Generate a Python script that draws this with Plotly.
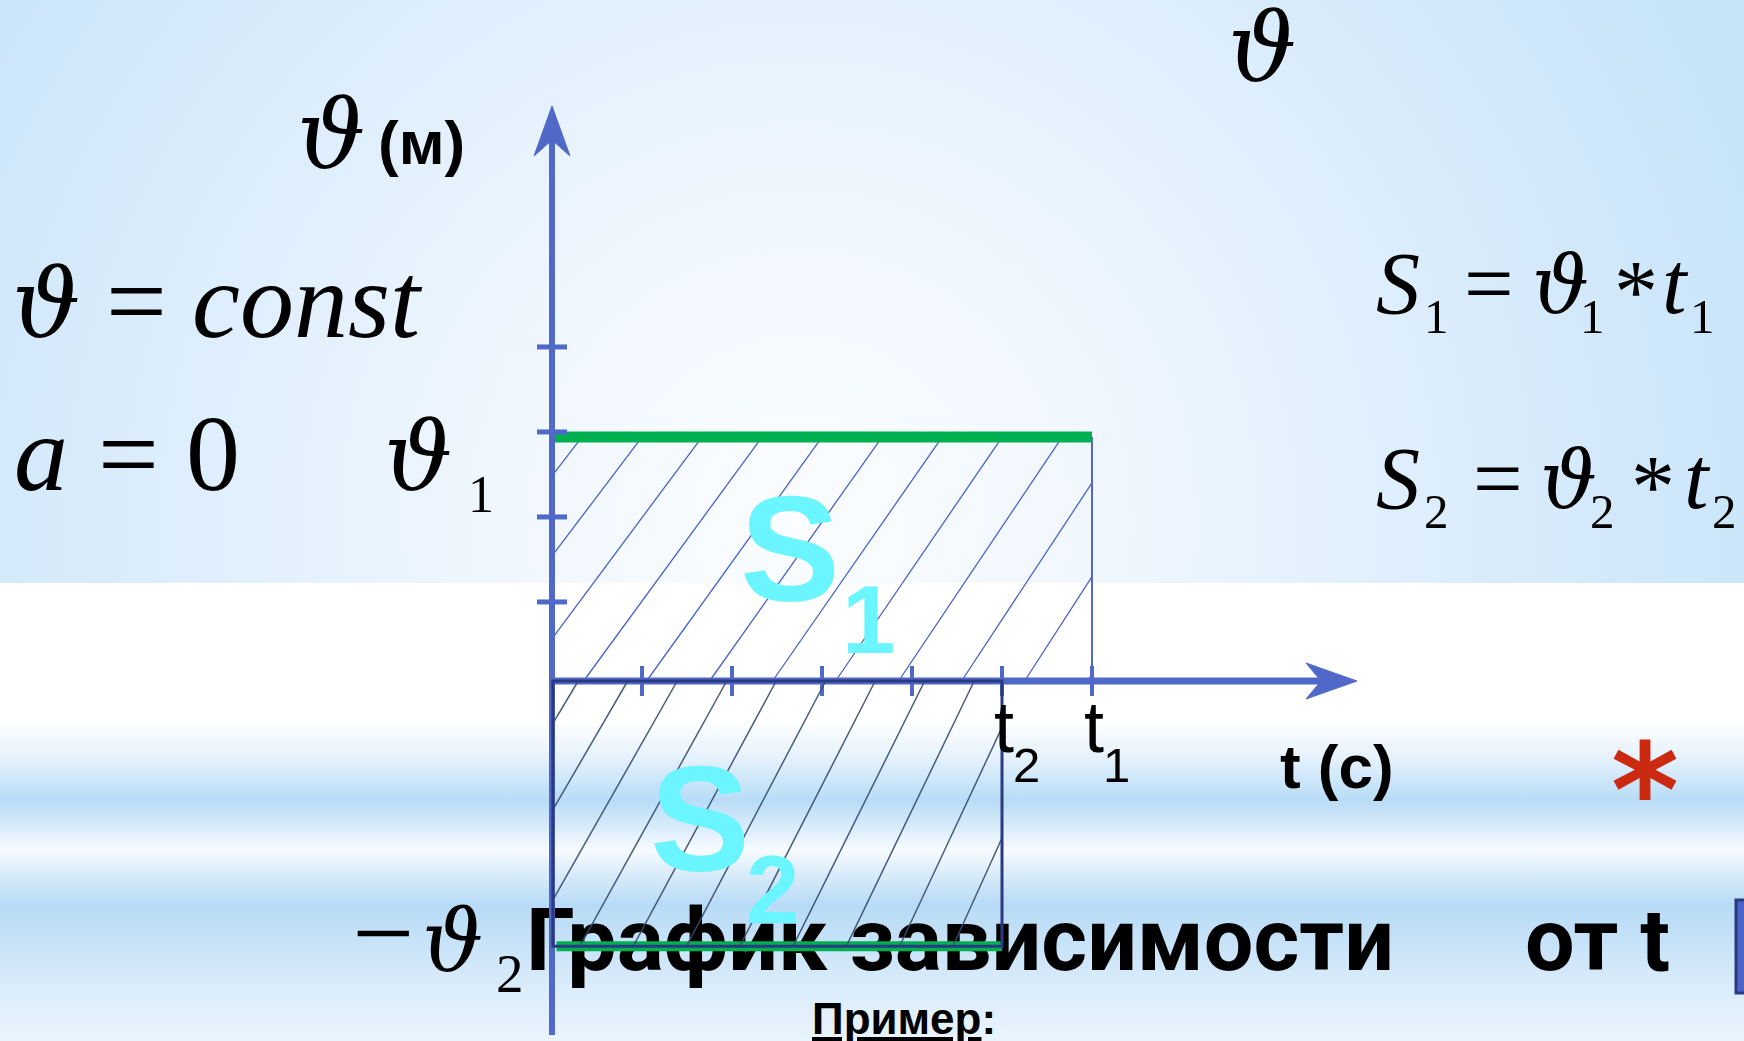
import base64
import plotly.graph_objects as go

# ---------------- data ----------------
t_ticks = [1, 2, 3, 4, 5, 6]            # tick marks on the t axis
v_ticks = [0.93, 1.93, 2.93, 3.93]      # tick marks on the velocity axis
t_bounds = [6, 5]                        # t1, t2
v_levels = [2.87, -3.12]                 # v1, -v2
area_labels = ["S", "S"]
area_subs = ["1", "2"]
t_tick_labels = ["t", "t"]
t_tick_subs = ["2", "1"]                 # labels at t2 and t1

# ---------------- geometry / style ----------------
W, H = 1744, 1041
X0, Y0, UX, UY = 552.0, 681.0, 90.0, 85.0   # origin (px) and unit sizes (px)


def dx(px):
    return (px - X0) / UX


def dy(py):
    return (Y0 - py) / UY


AX = "#5068C8"
NAVY = "#2B3A80"
GREEN = "#00B050"
CYAN = "#6AF5FF"
SERIF = "Liberation Serif"
THETA = "DejaVu Serif"
SANS = "Liberation Sans"

# ---------------- background (svg gradients) ----------------
svg = f"""<svg xmlns='http://www.w3.org/2000/svg' width='{W}' height='{H}' viewBox='0 0 {W} {H}' preserveAspectRatio='none'>
<defs>
<radialGradient id='g1' gradientUnits='userSpaceOnUse' cx='800' cy='520' r='1000'>
<stop offset='0' stop-color='#fbfdff'/>
<stop offset='0.3' stop-color='#f0f7fe'/>
<stop offset='0.65' stop-color='#dcedfc'/>
<stop offset='1' stop-color='#c8e4f9'/>
</radialGradient>
<linearGradient id='g2' gradientUnits='userSpaceOnUse' x1='0' y1='583' x2='0' y2='1041'>
<stop offset='0' stop-color='#ffffff'/>
<stop offset='0.30' stop-color='#ffffff'/>
<stop offset='0.386' stop-color='#e3f1fc'/>
<stop offset='0.474' stop-color='#b8dcf6'/>
<stop offset='0.528' stop-color='#d6eafa'/>
<stop offset='0.583' stop-color='#f7fbff'/>
<stop offset='0.638' stop-color='#d8ebfa'/>
<stop offset='0.703' stop-color='#b7dbf6'/>
<stop offset='0.769' stop-color='#c4e1f8'/>
<stop offset='0.89' stop-color='#dcedfb'/>
<stop offset='1' stop-color='#eaf4fd'/>
</linearGradient>
</defs>
<rect x='0' y='0' width='{W}' height='583' fill='url(#g1)'/>
<rect x='0' y='583' width='{W}' height='{H-583}' fill='url(#g2)'/>
</svg>"""
bg_uri = "data:image/svg+xml;base64," + base64.b64encode(svg.encode()).decode()


# ---------------- hatching ----------------
def hatch_path(x0, x1, y0, y1, top_ref, top_step, bot_ref, bot_step):
    parts = []
    for k in range(-20, 20):
        xt = top_ref + k * top_step
        xb = bot_ref + k * bot_step
        d = xt - xb
        s_lo = max(0.0, (xt - x1) / d)
        s_hi = min(1.0, (xt - x0) / d)
        if s_lo >= s_hi:
            continue
        pa = (xt - s_lo * d, y1 + s_lo * (y0 - y1))
        pb = (xt - s_hi * d, y1 + s_hi * (y0 - y1))
        parts.append(f"M{pa[0]:.4f},{pa[1]:.4f} L{pb[0]:.4f},{pb[1]:.4f}")
    return " ".join(parts)


t1, t2 = t_bounds
v1, v2 = v_levels

shapes = []
# S1 hatching (below traces)
shapes.append(dict(type="path", layer="below", xref="x", yref="y",
                   path=hatch_path(0.03, t1, 0, v1, 2.333, 0.667, 0.351, 0.70),
                   line=dict(color="#4A63C8", width=1.3)))
# S1 right border
shapes.append(dict(type="line", layer="below", xref="x", yref="y",
                   x0=t1, x1=t1, y0=0, y1=v1, line=dict(color=AX, width=2)))

# axes
shapes.append(dict(type="line", xref="x", yref="y", x0=0, x1=0,
                   y0=dy(1035), y1=dy(140), line=dict(color=AX, width=6)))
shapes.append(dict(type="line", xref="x", yref="y", x0=dx(549), x1=dx(1322),
                   y0=0, y1=0, line=dict(color=AX, width=7)))
# arrow heads
shapes.append(dict(type="path", xref="x", yref="y", fillcolor=AX, line=dict(color=AX, width=1),
                   path=f"M0,{dy(106)} L{dx(570)},{dy(156)} L0,{dy(140)} L{dx(534)},{dy(156)} Z"))
shapes.append(dict(type="path", xref="x", yref="y", fillcolor=AX, line=dict(color=AX, width=1),
                   path=f"M{dx(1357)},0 L{dx(1306)},{dy(663)} L{dx(1321)},0 L{dx(1306)},{dy(699)} Z"))
# ticks
for t in t_ticks:
    shapes.append(dict(type="line", xref="x", yref="y", x0=t, x1=t,
                       y0=-15 / UY, y1=15 / UY, line=dict(color=AX, width=4)))
for v in v_ticks:
    shapes.append(dict(type="line", xref="x", yref="y", x0=-15 / UX, x1=15 / UX,
                       y0=v, y1=v, line=dict(color=AX, width=5)))

# S2 hatching + frame (above the text)
shapes.append(dict(type="path", xref="x", yref="y",
                   path=hatch_path(0.02, t2, v2, 0, 1.941, 0.55, 0.311, 0.592),
                   line=dict(color="rgba(55,75,110,0.9)", width=1.5)))
shapes.append(dict(type="rect", xref="x", yref="y", x0=0.01, x1=t2, y0=v2, y1=0,
                   line=dict(color=NAVY, width=3), fillcolor="rgba(0,0,0,0)"))

# partial box at right edge
shapes.append(dict(type="rect", xref="paper", yref="paper", x0=1736 / W, x1=1.01,
                   y0=1 - 993 / H, y1=1 - 900 / H, line=dict(color=NAVY, width=3),
                   fillcolor="#4A64C8"))

fig = go.Figure()

# heading text (below the S2 drawing)
HS = 88
fig.add_trace(go.Scatter(
    x=[dx(526), dx(1525)], y=[dy(979 - 0.35 * HS)] * 2, mode="text",
    text=["График зависимости", "от t"], textposition="middle right",
    textfont=dict(family="Roboto", size=HS, color="black", weight="bold"),
    hoverinfo="skip", showlegend=False))

# green velocity lines
fig.add_trace(go.Scatter(x=[0, t1], y=[v1, v1], mode="lines",
                         line=dict(color=GREEN, width=11), hoverinfo="skip", showlegend=False))
fig.add_trace(go.Scatter(x=[0.05, t2], y=[v2, v2], mode="lines",
                         line=dict(color=GREEN, width=10), hoverinfo="skip", showlegend=False))

annotations = []


def ann(text, px, base, size, family=SERIF, color="black", weight="normal", xanchor="left", k=0.34):
    annotations.append(dict(
        text=text, xref="paper", yref="paper", x=px / W, y=1 - (base - k * size) / H,
        xanchor=xanchor, yanchor="middle", showarrow=False,
        font=dict(family=family, size=size, color=color, weight=weight)))


# math texts
ann("<i>ϑ</i>", 1226, 81, 96, family=THETA)
ann("<i>ϑ</i>", 295, 168, 96, family=THETA)
ann("(м)", 376, 164, 62, family=SANS, weight="bold")

ann("<i>ϑ</i>", 10, 337, 96, family=THETA)
ann("=", 104, 337, 108)
ann("<i>const</i>", 190, 337, 108)
ann("<i>a</i>", 12, 490, 108)
ann("=", 96, 490, 108)
ann("0", 184, 490, 108)
ann("<i>ϑ</i>", 382, 490, 96, family=THETA)
ann("1", 466, 512, 52)

# equations
for base, sub, xs in [(313, "1", [1374, 1422, 1462, 1530, 1578, 1612, 1660, 1688]),
                      (508, "2", [1374, 1422, 1471, 1538, 1588, 1629, 1682, 1710])]:
    ann("<i>S</i>", xs[0], base, 88)
    ann(sub, xs[1], base + 20, 49)
    ann("=", xs[2], base, 88)
    ann("<i>ϑ</i>", xs[3], base, 80, family=THETA)
    ann(sub, xs[4], base + 20, 49)
    ann("*", xs[5], base + 8, 88)
    ann("<i>t</i>", xs[6], base, 88)
    ann(sub, xs[7], base + 20, 49)

# -v2
ann("−", 350, 970, 110)
ann("<i>ϑ</i>", 420, 970, 86, family=THETA)
ann("2", 494, 992, 55)

# tick labels t2, t1
for tv, lab, sub in zip([t2, t1], t_tick_labels, t_tick_subs):
    px = X0 + tv * UX
    ann(lab, px - 10, 751, 72, family=SANS)
    ann(sub, px + 9, 782, 49, family=SANS)

ann("t (с)", 1278, 788, 62, family=SANS, weight="bold")
ann("*", 1645, 835, 130, family="DejaVu Sans", color="#CC2A10", xanchor="center", weight="bold")

# area labels
for (lab, sub, sx, sb, ssx, ssb) in [(area_labels[0], area_subs[0], 738, 600, 840, 652),
                                    (area_labels[1], area_subs[1], 648, 870, 744, 922)]:
    ann(lab, sx, sb, 150, family=SANS, color=CYAN, weight="bold")
    ann(sub, ssx, ssb, 96, family=SANS, color=CYAN, weight="bold")

ann("<u>Пример</u>:", 810, 1033, 44, family=SANS, weight="bold")

fig.update_layout(
    width=W, height=H, autosize=False,
    margin=dict(l=0, r=0, t=0, b=0),
    paper_bgcolor="white", plot_bgcolor="rgba(0,0,0,0)",
    xaxis=dict(range=[dx(0), dx(W)], visible=False, fixedrange=True),
    yaxis=dict(range=[dy(H), dy(0)], visible=False, fixedrange=True),
    shapes=shapes, annotations=annotations,
    images=[dict(source=bg_uri, xref="paper", yref="paper", x=0, y=1, sizex=1, sizey=1,
                 xanchor="left", yanchor="top", sizing="stretch", layer="below")],
    showlegend=False,
)

fig.write_html("out.html", config={"displayModeBar": False},
               post_script="document.body.style.margin='0';document.body.style.overflow='hidden';")
